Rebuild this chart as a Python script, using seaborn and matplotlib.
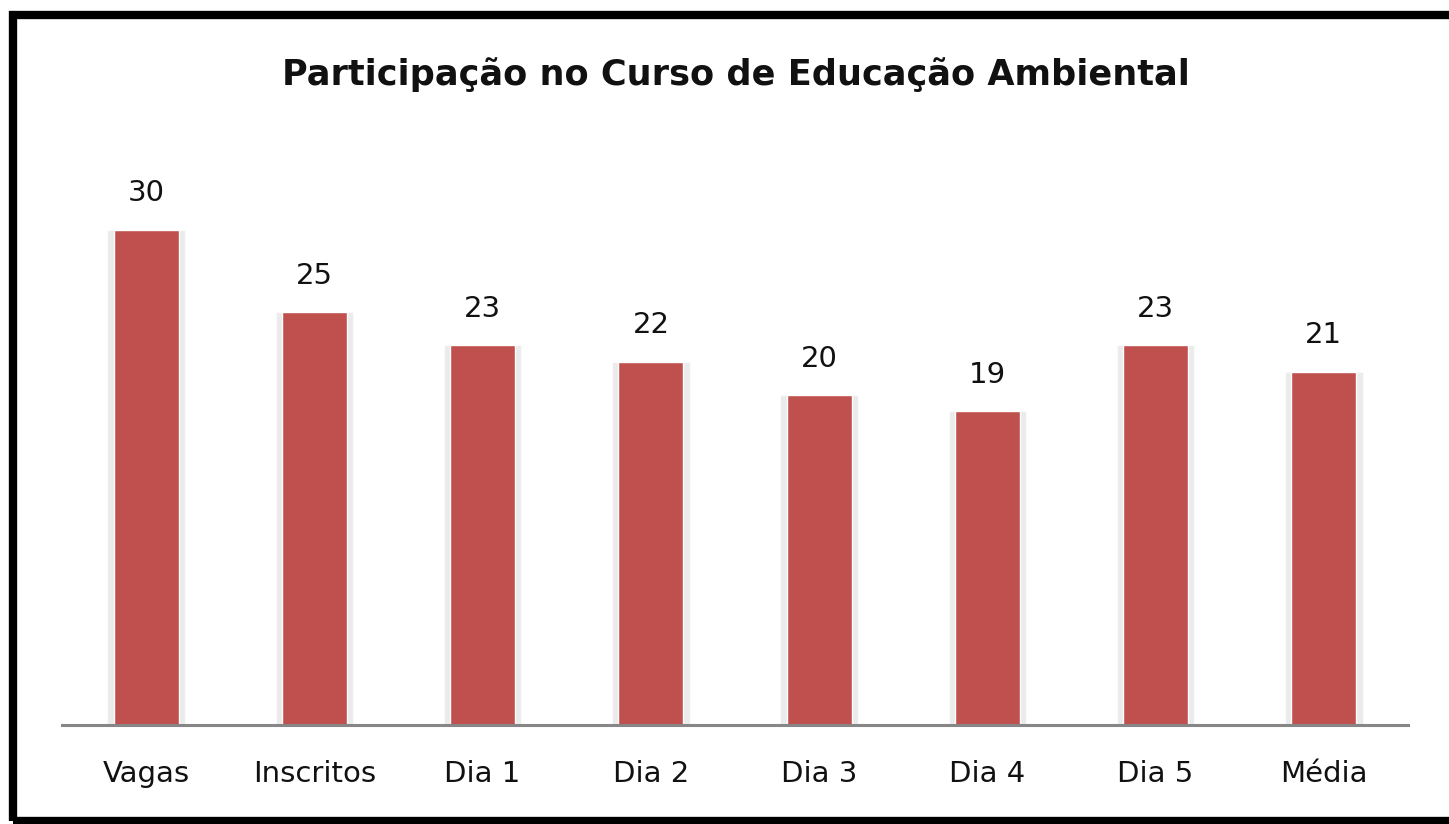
import numpy as np
import pandas as pd
import seaborn as sns
import matplotlib
import matplotlib.pyplot as plt
from matplotlib.patches import Rectangle

matplotlib.use("Agg")

categorias = ["Vagas", "Inscritos", "Dia 1", "Dia 2", "Dia 3", "Dia 4", "Dia 5", "Média"]
participantes = [30, 25, 23, 22, 20, 19, 23, 21.4]
titulo = "Participação no Curso de Educação Ambiental"

df = pd.DataFrame({"categoria": categorias, "valor": participantes})

sns.set_style("white")
plt.rcParams["font.family"] = ["DejaVu Sans"]

fig = plt.figure(figsize=(14.49, 8.24), dpi=100)
ax = fig.add_axes([0.0428, 0.1201, 0.9289, 0.7015])

# sombra leve atras das barras
sns.barplot(data=df, x="categoria", y="valor", color="#d9d9d9", width=0.46,
            saturation=1, ax=ax, alpha=0.5, zorder=1)
sns.barplot(data=df, x="categoria", y="valor", color="#C0504D", width=0.385,
            saturation=1, ax=ax, zorder=2)

ax.bar_label(ax.containers[1], fmt="%.0f", padding=16, fontsize=21, color="#111111")

ax.set_ylim(0, 35)
ax.set_xlim(-0.5, 7.5)
ax.set_xlabel("")
ax.set_ylabel("")
ax.set_yticks([])
ax.tick_params(axis="x", length=0, pad=25, labelsize=21, labelcolor="#111111")
for s in ["top", "right", "left"]:
    ax.spines[s].set_visible(False)
ax.spines["bottom"].set_color("#868686")
ax.spines["bottom"].set_linewidth(2.2)

fig.text(0.508, 0.91, titulo, ha="center", va="center", fontsize=25.3,
         fontweight="bold", color="#111111")

# moldura preta
fig.patches.append(Rectangle((13 / 1449, 3 / 824), 1.2, 806.5 / 824, transform=fig.transFigure,
                             fill=False, edgecolor="black", linewidth=6, zorder=10))

fig.savefig("out.png", dpi=100)
plt.close(fig)
